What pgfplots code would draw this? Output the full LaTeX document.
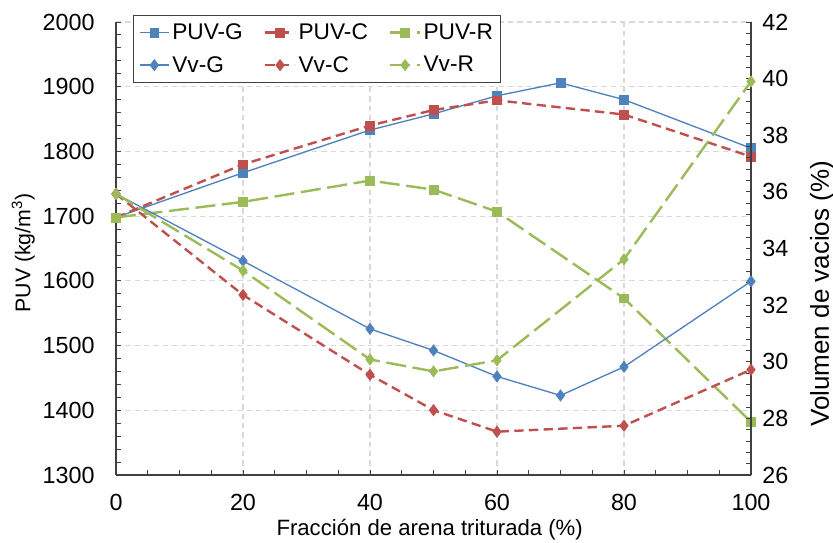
\documentclass[border=0pt]{standalone}
\usepackage{fontspec}
\setmainfont{Liberation Sans}
\usepackage{pgfplots}
\pgfplotsset{compat=1.18}

\definecolor{cG}{HTML}{4F81BD}
\definecolor{cC}{HTML}{C0504D}
\definecolor{cR}{HTML}{9BBB59}
\definecolor{axc}{HTML}{404040}
\definecolor{grc}{HTML}{D9D9D9}

\pgfplotsset{
  base/.style={
    scale only axis, width=476.25pt, height=339.75pt,
    xmin=0, xmax=100,
    tick align=inside,
    major tick length=3.75pt, minor tick length=3.75pt,
    axis line style={axc, line width=0.9pt, -},
    every tick/.style={axc, line width=0.7pt},
    tick label style={font=\fontsize{17.5}{21}\selectfont},
    /pgf/number format/assume math mode=true,
    /pgf/number format/1000 sep={},
  },
  sG/.style={cG, line width=1pt, mark=square*, mark size=3.3pt, mark options={solid, line width=0.5pt, fill=cG}},
  sC/.style={cC, line width=1.8pt, dash pattern=on 7pt off 4pt, mark=square*, mark size=3.3pt, mark options={solid, line width=0.5pt, fill=cC}},
  sR/.style={cR, line width=1.8pt, dash pattern=on 15pt off 5pt, mark=square*, mark size=3.3pt, mark options={solid, line width=0.5pt, fill=cR}},
  vG/.style={cG, line width=1pt, mark=diamond*, mark size=4.2pt, mark options={solid, line width=0.5pt, fill=cG}},
  vC/.style={cC, line width=1.8pt, dash pattern=on 7pt off 4pt, mark=diamond*, mark size=4.2pt, mark options={solid, line width=0.5pt, fill=cC}},
  vR/.style={cR, line width=1.8pt, dash pattern=on 15pt off 5pt, mark=diamond*, mark size=4.2pt, mark options={solid, line width=0.5pt, fill=cR}},
}

\begin{document}
\begin{tikzpicture}
  % eje izquierdo: PUV
  \begin{axis}[base,
      axis x line*=bottom, axis y line*=left,
      ymin=1300, ymax=2000, ytick={1300,1400,...,2000},
      xtick={0,20,...,100}, minor x tick num=3, minor y tick num=4,
      xmajorgrids, ymajorgrids,
      grid style={grc, dash pattern=on 4pt off 3pt, line width=0.8pt},
      xlabel={Fracción de arena triturada (\%)},
      ylabel={PUV (kg/m\textsuperscript{3})},
      xlabel style={at={(axis description cs:0.494,-0.121)}, anchor=center, font=\fontsize{16.6}{20}\selectfont},
      ylabel style={at={(axis description cs:-0.146,0.49)}, anchor=center, font=\fontsize{16}{19}\selectfont},
      yticklabel style={xshift=-12.5pt},
      xticklabel style={yshift=-10.5pt},
    ]
    \addplot[sG] coordinates {(0,1698) (20,1767) (40,1833) (50,1858) (60,1886) (70,1906) (80,1880) (100,1805)};
    \addplot[sC] coordinates {(0,1698) (20,1780) (40,1840) (50,1864) (60,1879) (80,1857) (100,1792)};
    \addplot[sR] coordinates {(0,1698) (20,1722) (40,1755) (50,1741) (60,1707) (80,1573) (100,1382)};
  \end{axis}
  % eje derecho: volumen de vacios
  \begin{axis}[base,
      axis x line=none, axis y line*=right,
      ymin=26, ymax=42, ytick={26,28,...,42}, minor y tick num=4,
      ylabel={Volumen de vacios (\%)},
      ylabel style={at={(axis description cs:1.112,0.40)}, anchor=center, font=\fontsize{19.5}{23}\selectfont},
      yticklabel style={xshift=5pt},
      legend columns=3,
      legend cell align=left,
      legend image code/.code={\draw[mark repeat=2, mark phase=2] plot coordinates {(0pt,0pt) (11pt,0pt) (22pt,0pt)};},
      legend style={at={(axis description cs:0.027,1.015)}, anchor=north west,
        draw=axc, line width=0.8pt, fill=white, font=\fontsize{17}{20}\selectfont,
        inner xsep=4pt, inner ysep=4pt, row sep=7pt,
        /tikz/every even column/.append style={column sep=14pt}},
    ]
    \addlegendimage{sG}\addlegendentry{PUV-G}
    \addlegendimage{sC}\addlegendentry{PUV-C}
    \addlegendimage{sR}\addlegendentry{PUV-R}
    \addplot[vG] coordinates {(0,35.93) (20,33.56) (40,31.16) (50,30.40) (60,29.48) (70,28.81) (80,29.82) (100,32.84)};
    \addlegendentry{Vv-G}
    \addplot[vC] coordinates {(0,35.93) (20,32.36) (40,29.54) (50,28.29) (60,27.53) (80,27.74) (100,29.72)};
    \addlegendentry{Vv-C}
    \addplot[vR] coordinates {(0,35.93) (20,33.22) (40,30.08) (50,29.66) (60,30.05) (80,33.62) (100,39.90)};
    \addlegendentry{Vv-R}
  \end{axis}
  \pgfresetboundingbox
  \path (-87pt,-51pt) rectangle (537.75pt,356.25pt);
\end{tikzpicture}
\end{document}
